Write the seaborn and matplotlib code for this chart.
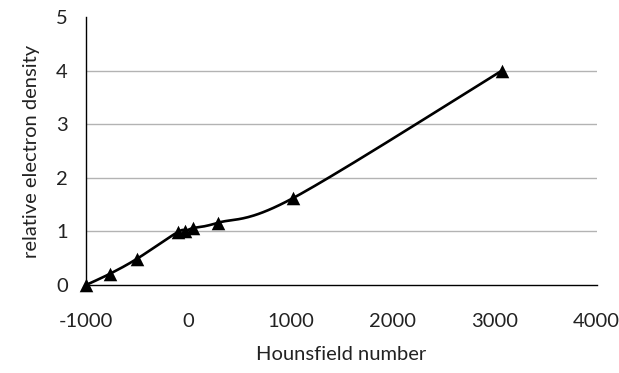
import numpy as np
import pandas as pd
import matplotlib
matplotlib.use("Agg")
import matplotlib.pyplot as plt
import seaborn as sns

hounsfield = [-1000, -765, -500, -100, -30, 45, 290, 1025, 3070]
electron_density = [0.0, 0.21, 0.49, 0.99, 1.0, 1.06, 1.16, 1.62, 4.0]
x_ticks = [-1000, 0, 1000, 2000, 3000, 4000]
y_ticks = [0, 1, 2, 3, 4, 5]

sns.set_theme(style="white")
plt.rcParams['font.family'] = ['Lato', 'DejaVu Sans']

# Excel-style smoothed line (Bezier with 1/6 tension) computed in normalized space
def smooth(xs, ys, xr, yr, n=40):
    asp = 1.9
    P = np.column_stack([(np.array(xs) - xr[0]) / (xr[1] - xr[0]) * asp,
                         (np.array(ys) - yr[0]) / (yr[1] - yr[0])])
    out = []
    m = len(P)
    for i in range(m - 1):
        p0 = P[max(i - 1, 0)]
        p1 = P[i]
        p2 = P[i + 1]
        p3 = P[min(i + 2, m - 1)]
        c1 = p1 + (p2 - p0) / 6
        c2 = p2 - (p3 - p1) / 6
        t = np.linspace(0, 1, n)[:, None]
        seg = (1 - t) ** 3 * p1 + 3 * (1 - t) ** 2 * t * c1 + 3 * (1 - t) * t ** 2 * c2 + t ** 3 * p2
        out.append(seg if i == 0 else seg[1:])
    S = np.vstack(out)
    sx = S[:, 0] / asp * (xr[1] - xr[0]) + xr[0]
    sy = S[:, 1] * (yr[1] - yr[0]) + yr[0]
    return sx, sy

sx, sy = smooth(hounsfield, electron_density, (-1000, 4000), (0, 5))
curve = pd.DataFrame({"x": sx, "y": sy})
pts = pd.DataFrame({"x": hounsfield, "y": electron_density})

fig = plt.figure(figsize=(6.19, 3.73), dpi=100)
ax = fig.add_axes([0.139, 0.236, 0.825, 0.718])

ax.plot(curve["x"], curve["y"], color="black", lw=1.9, zorder=3)
sns.scatterplot(data=pts, x="x", y="y", marker="^", s=95, color="black",
                edgecolor="black", linewidth=0, ax=ax, zorder=4, clip_on=False)

ax.set_xlim(-1000, 4000)
ax.set_ylim(0, 5)
ax.set_xticks(x_ticks)
ax.set_yticks(y_ticks)
ax.set_xticklabels([str(v) for v in x_ticks])
ax.set_yticklabels([str(v) for v in y_ticks])

for yv in y_ticks[1:-1]:
    ax.axhline(yv, color="#b3b3b3", lw=1.0, zorder=1)

for s in ["top", "right"]:
    ax.spines[s].set_visible(False)
for s in ["left", "bottom"]:
    ax.spines[s].set_color("black")
    ax.spines[s].set_linewidth(1.0)

ax.tick_params(axis="x", direction="in", length=5, width=1, color="black",
               labelsize=14.5, pad=20, labelcolor="#222222")
ax.tick_params(axis="y", length=0, labelsize=14.5, pad=13, labelcolor="#222222")

ax.set_xlabel("Hounsfield number", fontsize=14.5, labelpad=12, color="#222222")
ax.set_ylabel("relative electron density", fontsize=14.5, labelpad=12, color="#222222")

fig.savefig("out.png", dpi=100)
